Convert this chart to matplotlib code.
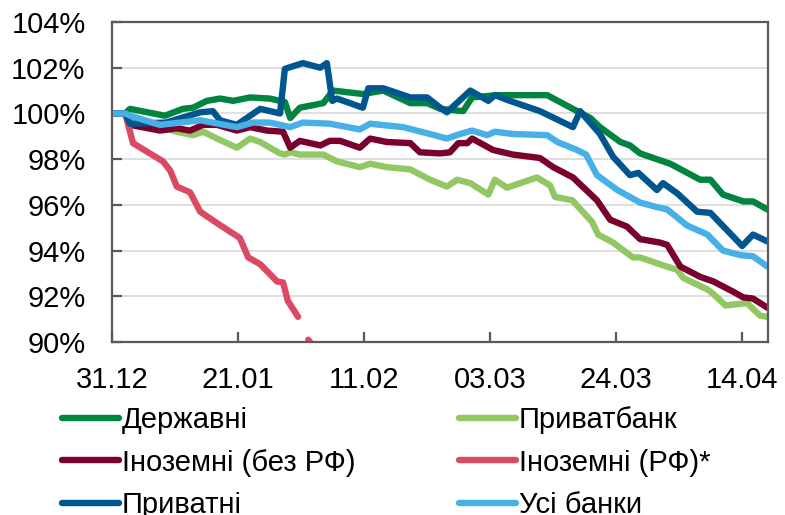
import numpy as np
import matplotlib
matplotlib.use("Agg")
import matplotlib.pyplot as plt

plt.rcParams['font.family'] = ['Liberation Sans', 'DejaVu Sans']

# days since 31.12
tick_days = [0, 21, 42, 63, 84, 105]
tick_labels = ["31.12", "21.01", "11.02", "03.03", "24.03", "14.04"]

# Державні
gov_days = [0, 2.2, 3, 8.8, 11.8, 13.5, 15.8, 18, 20.2, 23, 26.3, 28.8, 29.7, 31.3,
            35.2, 36.8, 41.8, 45.2, 49.7, 52.5, 54.7, 58.5, 60, 64.2, 72.5, 77.5,
            79.7, 81.3, 84.7, 86.3, 88, 91.3, 93, 98, 99.7, 101.8, 105.2, 106.8, 109.2]
gov_vals = [100, 100, 100.2, 99.9, 100.2, 100.25, 100.55, 100.65, 100.55, 100.7, 100.65,
            100.5, 99.8, 100.25, 100.45, 101.0, 100.85, 101.0, 100.45, 100.45, 100.2,
            100.1, 100.7, 100.8, 100.8, 100.1, 99.8, 99.4, 98.75, 98.6, 98.25, 97.95,
            97.8, 97.1, 97.1, 96.45, 96.15, 96.15, 95.8]

# Приватбанк
pb_days = [0, 2.2, 3, 8, 10.8, 13.5, 15.2, 17.5, 20.8, 23, 24.7, 28, 28.8, 29.7, 31.3,
           35.2, 37.5, 41.3, 43, 45.8, 49.7, 53, 55.8, 57.5, 59.7, 62.7, 63.8, 65.8,
           70.8, 73, 73.8, 76.7, 80, 81, 83.5, 86.8, 88, 91.3, 94.2, 95.2, 99.2, 100.2,
           102.2, 105.8, 108, 109.2]
pb_vals = [100, 100, 99.6, 99.4, 99.2, 99.05, 99.2, 98.9, 98.5, 98.9, 98.75, 98.25, 98.2,
           98.3, 98.2, 98.2, 97.9, 97.65, 97.8, 97.65, 97.55, 97.1, 96.8, 97.1, 96.95,
           96.45, 97.1, 96.75, 97.2, 96.85, 96.35, 96.2, 95.25, 94.7, 94.35, 93.7, 93.7,
           93.4, 93.15, 92.8, 92.3, 92.1, 91.6, 91.7, 91.15, 91.1]

# Іноземні (без РФ)
fnr_days = [0, 2.2, 3, 8, 10.8, 13, 15.2, 17.5, 20.8, 23, 25.8, 28.5, 29.7, 31.3, 34.7,
            36.3, 38, 41.3, 43, 45.8, 49.7, 51.3, 54.7, 56.3, 57.7, 59.2, 60, 63.5, 66.8,
            71.3, 73.5, 76.8, 80.8, 83, 85.8, 88, 91.3, 92.5, 94.7, 98, 100.2, 103.5,
            105.2, 106.8, 109.2]
fnr_vals = [100, 100, 99.5, 99.25, 99.35, 99.25, 99.5, 99.5, 99.25, 99.4, 99.25, 99.2,
            98.5, 98.8, 98.6, 98.8, 98.8, 98.5, 98.9, 98.75, 98.7, 98.3, 98.25, 98.3, 98.7,
            98.7, 98.9, 98.4, 98.2, 98.05, 97.65, 97.2, 96.2, 95.35, 95.05, 94.5, 94.35,
            94.25, 93.3, 92.85, 92.65, 92.2, 91.95, 91.9, 91.5]

# Іноземні (РФ)*
frf_days = [0, 2.2, 3.5, 8.5, 9.7, 10.8, 13, 14.7, 17.5, 21.3, 22.7, 24.7, 27.5, 28.5,
            29.3, 31, 31.8, 32.7, 34.7, 37]
frf_vals = [100, 100, 98.7, 97.9, 97.5, 96.8, 96.55, 95.7, 95.2, 94.55, 93.7, 93.4, 92.65,
            92.6, 91.8, 91.1, np.nan, 90.1, 89.4, 88.8]

# Приватні
prv_days = [0, 2.2, 3, 9, 14.7, 16.8, 18, 20.8, 24.7, 28, 28.8, 31.8, 34.7, 35.8, 36.7,
            37.5, 41.8, 42.7, 45.2, 49.7, 52.5, 54.7, 55.8, 59.7, 62.7, 63.8, 66.3, 71.3,
            76.8, 78, 81.3, 83.5, 86.3, 87.7, 90.8, 91.8, 94.2, 97.5, 99.7, 105, 106.8,
            109.2]
prv_vals = [100, 100, 99.55, 99.6, 100.05, 100.1, 99.7, 99.5, 100.2, 100.0, 101.95, 102.2,
            102.0, 102.2, 100.55, 100.65, 100.25, 101.1, 101.1, 100.7, 100.7, 100.25,
            100.05, 101.0, 100.55, 100.8, 100.55, 100.1, 99.4, 100.1, 99.1, 98.1, 97.3,
            97.4, 96.65, 96.95, 96.5, 95.7, 95.65, 94.2, 94.7, 94.4]

# Усі банки
all_days = [0, 2.2, 3, 8, 14.7, 20.8, 23.5, 26.3, 29.7, 31.8, 36.3, 41.3, 43, 48.5, 53,
            55.8, 58, 60, 62.5, 63.8, 66.8, 72.5, 74.2, 77.5, 79, 80.8, 84.2, 88, 90.8,
            92.5, 95.8, 99.2, 101.8, 104.7, 106.8, 109.2]
all_vals = [100, 100, 99.9, 99.5, 99.7, 99.4, 99.6, 99.6, 99.4, 99.6, 99.55, 99.3, 99.55,
            99.4, 99.1, 98.9, 99.1, 99.25, 99.05, 99.2, 99.1, 99.05, 98.75, 98.4, 98.2,
            97.3, 96.65, 96.1, 95.9, 95.8, 95.1, 94.7, 94.0, 93.8, 93.75, 93.3]

series = [
    ("Державні", gov_days, gov_vals, "#00843F"),
    ("Приватбанк", pb_days, pb_vals, "#92C863"),
    ("Іноземні (без РФ)", fnr_days, fnr_vals, "#7A0030"),
    ("Іноземні (РФ)*", frf_days, frf_vals, "#DA4A63"),
    ("Приватні", prv_days, prv_vals, "#00568F"),
    ("Усі банки", all_days, all_vals, "#47B0E6"),
]

fig = plt.figure(figsize=(7.85, 5.15), dpi=100)
ax = fig.add_axes([112 / 785, 1 - 342 / 515, (768 - 112) / 785, (342 - 22) / 515])

lines = {}
for name, d, v, c in series:
    ln, = ax.plot(d, v, color=c, lw=4.6, solid_capstyle='round',
                  solid_joinstyle='round', label=name)
    lines[name] = ln

ax.set_xlim(0, 109.3)
ax.set_ylim(90, 104)
ax.set_yticks(np.arange(90, 105, 2))
ax.set_yticklabels([f"{t}%" for t in range(90, 105, 2)])
ax.set_xticks(tick_days)
ax.set_xticklabels(tick_labels)
ax.grid(axis='y', color='#D9D9D9', lw=1.2)
ax.set_axisbelow(True)
for s in ax.spines.values():
    s.set_color('#595959')
    s.set_linewidth(1.6)
ax.tick_params(axis='both', direction='in', length=7, width=1.6, color='#595959',
               labelsize=21, labelcolor='black')
ax.tick_params(axis='y', pad=19)
ax.tick_params(axis='x', pad=17)

# legend is row-major in the reference, so list column by column
order = ["Державні", "Іноземні (без РФ)", "Приватні",
         "Приватбанк", "Іноземні (РФ)*", "Усі банки"]
leg = fig.legend([lines[n] for n in order], order, ncol=2, loc='upper left',
                 bbox_to_anchor=(62 / 785, 1 - 406 / 515), frameon=False,
                 fontsize=21, handlelength=1.95, handletextpad=0.1,
                 columnspacing=3.55, labelspacing=0.5, borderpad=0,
                 borderaxespad=0)

fig.savefig("out.png", dpi=100)
